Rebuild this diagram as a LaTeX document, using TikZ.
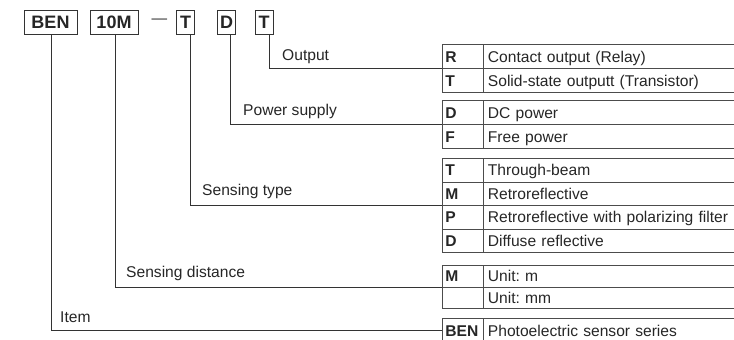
\documentclass[tikz,border=0pt]{standalone}
\usepackage{fontspec}
\setmainfont{Liberation Sans}
\frenchspacing
\begin{document}
\begin{tikzpicture}[x=1pt,y=-1pt,
        code/.style={draw=black!80,rectangle,line width=1pt,inner xsep=0pt,inner ysep=0pt,minimum height=24pt,font=\bfseries\fontsize{18}{20}\selectfont,text=black!85},
        key/.style={draw=black!70,rectangle,line width=0.9pt,anchor=north west,minimum height=#1,minimum width=41pt,text width=35pt,align=left,inner xsep=3pt,inner ysep=0pt,text height=11.2pt,text depth=0pt,font=\bfseries\fontsize{15.6}{18}\selectfont,text=black!85},
        key/.default=24pt,
        desc/.style={key=#1,minimum width=257pt,text width=248pt,inner xsep=4.5pt,font=\fontsize{15.6}{18}\selectfont},
        desc/.default=24pt,
        lbl/.style={anchor=base west,inner sep=0pt,font=\fontsize{15.6}{18}\selectfont,text=black!85},
        lead/.style={draw=black!80,line width=0.9pt}
      ]
      \useasboundingbox (0,0) rectangle (734,340);
      \clip (0,0) rectangle (734,340);
      % model code
      \node[code,minimum width=53pt] (ben) at (50.5,22) {BEN};
      \node[code,minimum width=48pt] (dist) at (114,22) {10M};
      \node[font=\fontsize{15.6}{18}\selectfont,text=black!80,inner sep=0pt] (dash) at (159.5,21) {—};
      \node[code,minimum width=17.5pt] (sens) at (185.5,22) {T};
      \node[code,minimum width=17.5pt] (pwr) at (226.5,22) {D};
      \node[code,minimum width=18pt] (out) at (264,22) {T};
      % output
      \node[key] (outR) at (442,44) {R};
      \node[desc] (outRd) at (483,44) {Contact output (Relay)};
      \node[key] (outT) at (442,68) {T};
      \node[desc] (outTd) at (483,68) {Solid-state outputt (Transistor)};
      % power supply
      \node[key] (pwD) at (442,100) {D};
      \node[desc] (pwDd) at (483,100) {DC power};
      \node[key] (pwF) at (442,124) {F};
      \node[desc] (pwFd) at (483,124) {Free power};
      % sensing type
      \node[key=23.5pt] (senT) at (442,158) {T};
      \node[desc=23.5pt] (senTd) at (483,158) {Through-beam};
      \node[key=23.5pt] (senM) at (442,181.5) {M};
      \node[desc=23.5pt] (senMd) at (483,181.5) {Retroreflective};
      \node[key=23.5pt] (senP) at (442,205) {P};
      \node[desc=23.5pt] (senPd) at (483,205) {Retroreflective with polarizing filter};
      \node[key=23.5pt] (senD) at (442,228.5) {D};
      \node[desc=23.5pt] (senDd) at (483,228.5) {Diffuse reflective};
      % sensing distance
      \node[key=21.5pt] (distM) at (442,265) {M};
      \node[desc=21.5pt] (distMd) at (483,265) {Unit: m};
      \node[key=21.5pt] (distMM) at (442,286.5) {};
      \node[desc=21.5pt] (distMMd) at (483,286.5) {Unit: mm};
      % item
      \node[key] (item) at (442,318) {BEN};
      \node[desc] (itemd) at (483,318) {Photoelectric sensor series};
      % leaders
      \draw[lead] ([xshift=5pt]out.south) |- (outR.south west);
      \draw[lead] ([xshift=4pt]pwr.south) |- (pwD.south west);
      \draw[lead] ([xshift=5pt]sens.south) |- (senM.south west);
      \draw[lead] ([xshift=1pt]dist.south) |- (distM.south west);
      \draw[lead] ([xshift=1pt]ben.south) |- (item.west);
      \node[lbl] (outlbl) at (282,60) {Output};
      \node[lbl] (pwrlbl) at (243,115) {Power supply};
      \node[lbl] (senlbl) at (202,195) {Sensing type};
      \node[lbl] (distlbl) at (126,277) {Sensing distance};
      \node[lbl] (itemlbl) at (60,322) {Item};
    \end{tikzpicture}
\end{document}
